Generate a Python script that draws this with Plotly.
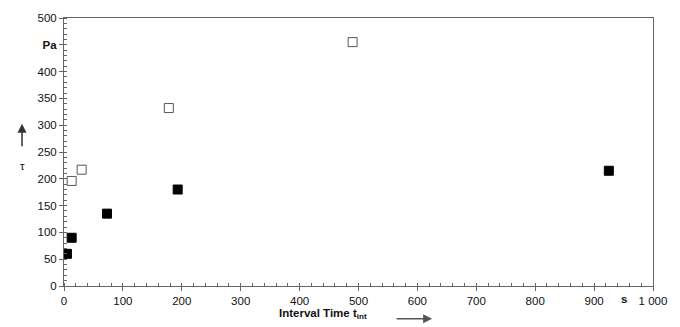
import plotly.graph_objects as go

# Data
filled_t = [5, 13, 73, 193, 925]
filled_tau = [60, 90, 135, 180, 215]
open_t = [13, 30, 178, 490]
open_tau = [196, 217, 332, 455]

x_tickvals = [0, 100, 200, 300, 400, 500, 600, 700, 800, 900, 1000]
x_ticktext = ["0", "100", "200", "300", "400", "500", "600", "700", "800", "900", "1 000"]
y_tickvals = [0, 50, 100, 150, 200, 250, 300, 350, 400, 450, 500]
y_ticktext = ["0", "50", "100", "150", "200", "250", "300", "350", "400", "<b>Pa</b>", "500"]

FONT = "Liberation Sans, Arial, sans-serif"
AXC = "#666666"
TXT = "#111111"

fig = go.Figure()
fig.add_trace(go.Scatter(x=open_t, y=open_tau, mode="markers",
                         marker=dict(symbol="square", size=9, color="white",
                                     line=dict(color="#555555", width=1)),
                         showlegend=False))
fig.add_trace(go.Scatter(x=filled_t, y=filled_tau, mode="markers",
                         marker=dict(symbol="square", size=9, color="black",
                                     line=dict(color="black", width=1)),
                         showlegend=False))

axis_common = dict(showgrid=False, zeroline=False, showline=True, linecolor=AXC,
                   linewidth=1, mirror=True, ticks="outside", ticklen=4,
                   tickcolor=AXC, tickfont=dict(family=FONT, size=11.5, color=TXT))

fig.update_xaxes(range=[0, 1000], tickvals=x_tickvals, ticktext=x_ticktext,
                 minor=dict(dtick=20, ticks="inside", ticklen=3, tickcolor=AXC),
                 **axis_common)
fig.update_yaxes(range=[0, 500], tickvals=y_tickvals, ticktext=y_ticktext,
                 minor=dict(dtick=10, ticks="inside", ticklen=3, tickcolor=AXC),
                 **axis_common)

annotations = [
    dict(x=950, y=0, xref="x", yref="paper", yshift=-13, text="<b>s</b>",
         xanchor="center", yanchor="middle",
         showarrow=False, font=dict(family=FONT, size=11.5, color=TXT)),
    dict(x=0.44, y=-0.103, xref="paper", yref="paper",
         xanchor="center", yanchor="middle",
         text="<b>Interval Time t<sub>int</sub></b>", showarrow=False,
         font=dict(family=FONT, size=11.5, color=TXT)),
    dict(x=0.625, y=-0.122, xref="paper", yref="paper", text="",
         showarrow=True, ax=-37, ay=0, arrowhead=2, arrowsize=1.2, arrowwidth=1.5,
         arrowcolor="#555555"),
    dict(x=-0.0713, y=0.605, xref="paper", yref="paper", text="",
         showarrow=True, ax=0, ay=24, arrowhead=2, arrowsize=1.2, arrowwidth=1.5,
         arrowcolor="#333333"),
    dict(x=-0.0713, y=0.446, xref="paper", yref="paper", text="τ",
         xanchor="center", yanchor="middle",
         showarrow=False, font=dict(family=FONT, size=11.5, color=TXT)),
]

fig.update_layout(width=680, height=327, margin=dict(l=64, r=27, t=15, b=41),
                  plot_bgcolor="white", paper_bgcolor="white",
                  annotations=annotations, font=dict(family=FONT))

fig.write_html("out.html")
